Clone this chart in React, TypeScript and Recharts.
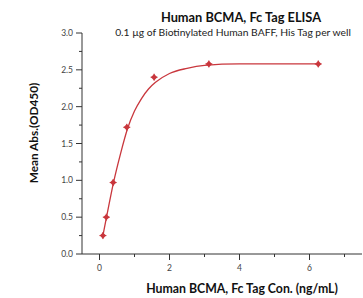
import React from 'react';
import { ComposedChart, Line, Scatter, XAxis, YAxis } from 'recharts';

// measured points (ng/mL, OD450)
const concentrations = [0.098, 0.195, 0.39, 0.78, 1.56, 3.125, 6.25];
const absorbances = [0.25, 0.5, 0.97, 1.72, 2.4, 2.58, 2.58];

// fitted curve
const curveX = [0.098, 0.2, 0.4, 0.6, 0.8, 1.0, 1.2, 1.4, 1.6, 2.0, 2.5, 3.0, 4.0, 5.0, 6.25];
const curveY = [0.25, 0.5, 0.97, 1.36, 1.7, 1.94, 2.11, 2.24, 2.33, 2.45, 2.52, 2.56, 2.58, 2.58, 2.58];

const yTicks = [0, 0.25, 0.5, 0.75, 1, 1.25, 1.5, 1.75, 2, 2.25, 2.5, 2.75, 3];
const xTicks = [0, 1, 2, 3, 4, 5, 6, 7];

const points = concentrations.map((x, i) => ({ x, y: absorbances[i] }));
const curve = curveX.map((x, i) => ({ x, y: curveY[i] }));

const RED = '#c9373d';
const AXIS = '#333';
const FONT = 'Lato, "Open Sans", sans-serif';

const YTick = (props: any) => {
  const { x, y, payload } = props;
  const v = payload.value;
  const major = Math.abs(v * 2 - Math.round(v * 2)) < 1e-6;
  return (
    <g>
      <line x1={x} x2={x - (major ? 6 : 3)} y1={y} y2={y} stroke={AXIS} strokeWidth={1} />
      {major && (
        <text x={x - 9} y={y} dy={3} textAnchor="end" fontSize={8.5} fill="#444" fontFamily={FONT}>
          {v.toFixed(1)}
        </text>
      )}
    </g>
  );
};

const XTick = (props: any) => {
  const { x, y, payload } = props;
  const v = payload.value;
  const major = v % 2 === 0;
  return (
    <g>
      <line x1={x} x2={x} y1={y} y2={y + (major ? 6 : 3)} stroke={AXIS} strokeWidth={1} />
      {major && (
        <text x={x} y={y + 17} textAnchor="middle" fontSize={8.5} fill="#444" fontFamily={FONT}>
          {v}
        </text>
      )}
    </g>
  );
};

const Marker = (props: any) => {
  const { cx, cy } = props;
  return (
    <g>
      <path d={`M${cx},${cy - 3.2}L${cx + 3.2},${cy}L${cx},${cy + 3.2}L${cx - 3.2},${cy}Z`} fill={RED} />
      <line x1={cx - 3.5} x2={cx + 3.5} y1={cy} y2={cy} stroke={RED} strokeWidth={1} />
      <line x1={cx} x2={cx} y1={cy - 3.5} y2={cy + 3.5} stroke={RED} strokeWidth={1} />
    </g>
  );
};

const centered = (x: number, y: number, extra: React.CSSProperties): React.CSSProperties => ({
  position: 'absolute',
  left: x,
  top: y,
  transform: 'translate(-50%, -50%)',
  whiteSpace: 'nowrap',
  lineHeight: 1,
  color: '#111',
  ...extra,
});

export default function App() {
  return (
    <div style={{ position: 'absolute', left: 0, top: 0, width: 363, height: 298, background: '#fff', fontFamily: FONT }}>
      <div style={centered(241, 17, { fontSize: 12.8, fontWeight: 700 })}>Human BCMA, Fc Tag ELISA</div>
      <div style={centered(233, 32, { fontSize: 10.3, color: '#222' })}>
        0.1 µg of Biotinylated Human BAFF, His Tag per well
      </div>
      <div style={centered(242, 289, { fontSize: 12.3, fontWeight: 700 })}>Human BCMA, Fc Tag Con. (ng/mL)</div>
      <div style={centered(34, 133, { fontSize: 11.8, fontWeight: 700, transform: 'translate(-50%, -50%) rotate(-90deg)' })}>
        Mean Abs.(OD450)
      </div>
      <ComposedChart width={363} height={298} margin={{ top: 33, right: 1, bottom: 0, left: 0 }} style={{ position: 'absolute', left: 0, top: 0 }}>
        <XAxis
          type="number"
          dataKey="x"
          domain={[-0.5, 7.5]}
          ticks={xTicks}
          height={44}
          stroke={AXIS}
          tickLine={false}
          tickSize={0}
          tickMargin={0}
          tick={<XTick />}
          allowDataOverflow
        />
        <YAxis
          type="number"
          dataKey="y"
          domain={[0, 3]}
          ticks={yTicks}
          width={82}
          stroke={AXIS}
          tickLine={false}
          tickSize={0}
          tickMargin={0}
          tick={<YTick />}
          interval={0}
        />
        <Line
          data={curve}
          dataKey="y"
          type="monotone"
          stroke={RED}
          strokeWidth={1.3}
          dot={false}
          activeDot={false}
          isAnimationActive={false}
        />
        <Scatter data={points} dataKey="y" shape={<Marker />} isAnimationActive={false} />
      </ComposedChart>
    </div>
  );
}
